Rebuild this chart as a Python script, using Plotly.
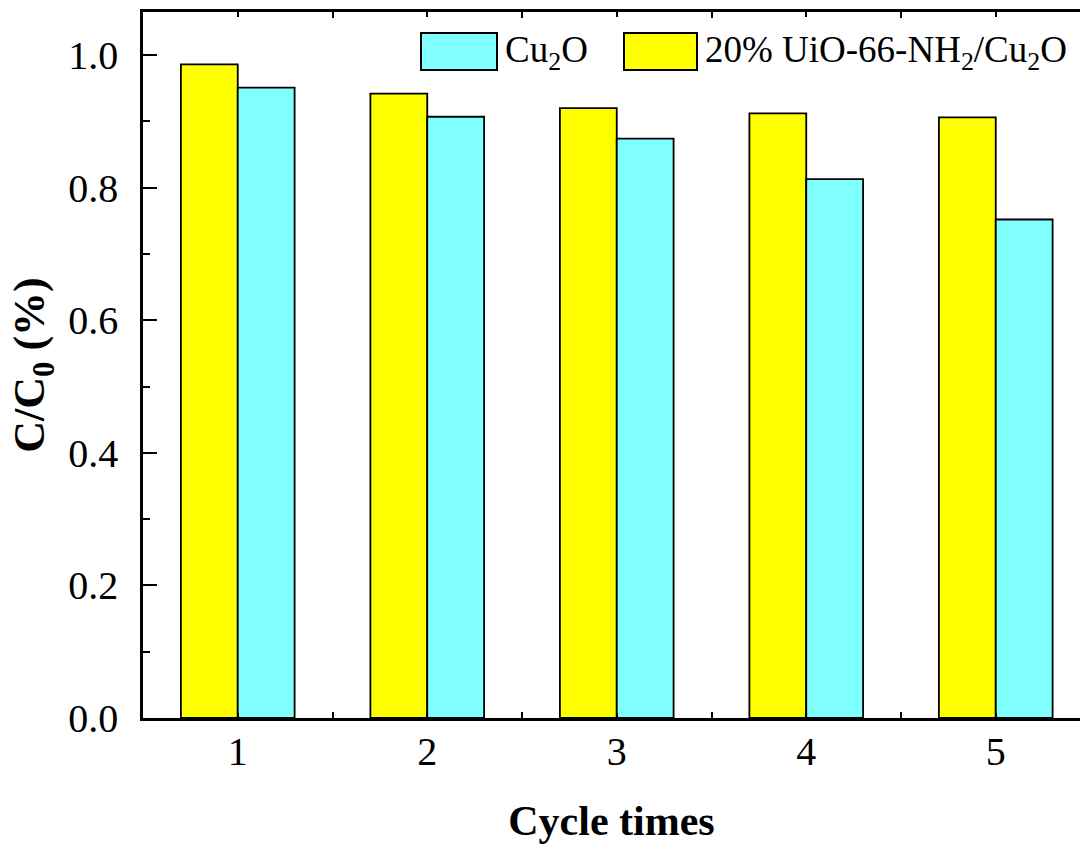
import plotly.graph_objects as go

# Photocatalytic cycling stability data
cycles = [1, 2, 3, 4, 5]
composite_vals = [0.986, 0.942, 0.920, 0.912, 0.906]   # 20% UiO-66-NH2/Cu2O
cu2o_vals = [0.951, 0.907, 0.874, 0.813, 0.752]        # Cu2O
y_ticks = [0.0, 0.2, 0.4, 0.6, 0.8, 1.0]

CYAN = "#80FFFF"
YELLOW = "#FFFF00"
FONT = "Liberation Serif, Times New Roman, serif"

fig = go.Figure()
fig.add_trace(go.Bar(x=cycles, y=composite_vals, name="20% UiO-66-NH<sub>2</sub>/Cu<sub>2</sub>O",
                     marker=dict(color=YELLOW, line=dict(color="black", width=1.8))))
fig.add_trace(go.Bar(x=cycles, y=cu2o_vals, name="Cu<sub>2</sub>O",
                     marker=dict(color=CYAN, line=dict(color="black", width=1.8))))

# Legend drawn as boxed swatches with labels along the top of the plot
L, T, B = 143, 12, 718
W = 1080 - L
H = B - T
def px(x):
    return (x - L) / W
def py(y):
    return (B - y) / H

legend_items = [
    (421, 497, CYAN, "Cu<sub>2</sub>O"),
    (624, 697, YELLOW, "20% UiO-66-NH<sub>2</sub>/Cu<sub>2</sub>O"),
]
for x0, x1, col, label in legend_items:
    fig.add_shape(type="rect", xref="paper", yref="paper",
                  x0=px(x0), x1=px(x1), y0=py(70), y1=py(33),
                  fillcolor=col, line=dict(color="black", width=2))
    fig.add_annotation(xref="paper", yref="paper", x=px(x1 + 6), y=py(52),
                       text=label, showarrow=False, xanchor="left", yanchor="middle",
                       font=dict(family=FONT, size=37, color="black"))

fig.update_layout(
    width=1080, height=844,
    margin=dict(l=L, r=0, t=T, b=844 - B),
    paper_bgcolor="white", plot_bgcolor="white",
    barmode="group", bargap=0.4, bargroupgap=0,
    showlegend=False,
    font=dict(family=FONT, size=40, color="black"),
)
fig.update_xaxes(
    range=[0.5, 0.5 + W / 189.5],
    automargin=False,
    tickvals=cycles, ticktext=[str(c) for c in cycles],
    ticks="inside", ticklen=5, tickwidth=2, tickcolor="black",
    minor=dict(tickvals=[1.5, 2.5, 3.5, 4.5, 5.5], ticks="inside", ticklen=6, tickwidth=2, tickcolor="black"),
    showline=True, linecolor="black", linewidth=2.5, mirror="ticks",
    showgrid=False, zeroline=False,
    tickfont=dict(family=FONT, size=40),
    ticklabelstandoff=-4,
    title=dict(text="<b>Cycle times</b>", font=dict(family=FONT, size=42), standoff=46),
)
fig.update_yaxes(
    range=[0, 1.065],
    automargin=False,
    tickvals=y_ticks, tickformat=".1f",
    ticks="inside", ticklen=14, tickwidth=2, tickcolor="black",
    minor=dict(dtick=0.1, ticks="inside", ticklen=7, tickwidth=2, tickcolor="black"),
    showline=True, linecolor="black", linewidth=2.5, mirror=False,
    showgrid=False, zeroline=False,
    tickfont=dict(family=FONT, size=40),
    ticklabelstandoff=14,
    title=dict(text="<b>C/C<sub>0</sub> (%)</b>", font=dict(family=FONT, size=44), standoff=10),
)

fig.write_html("out.html")
